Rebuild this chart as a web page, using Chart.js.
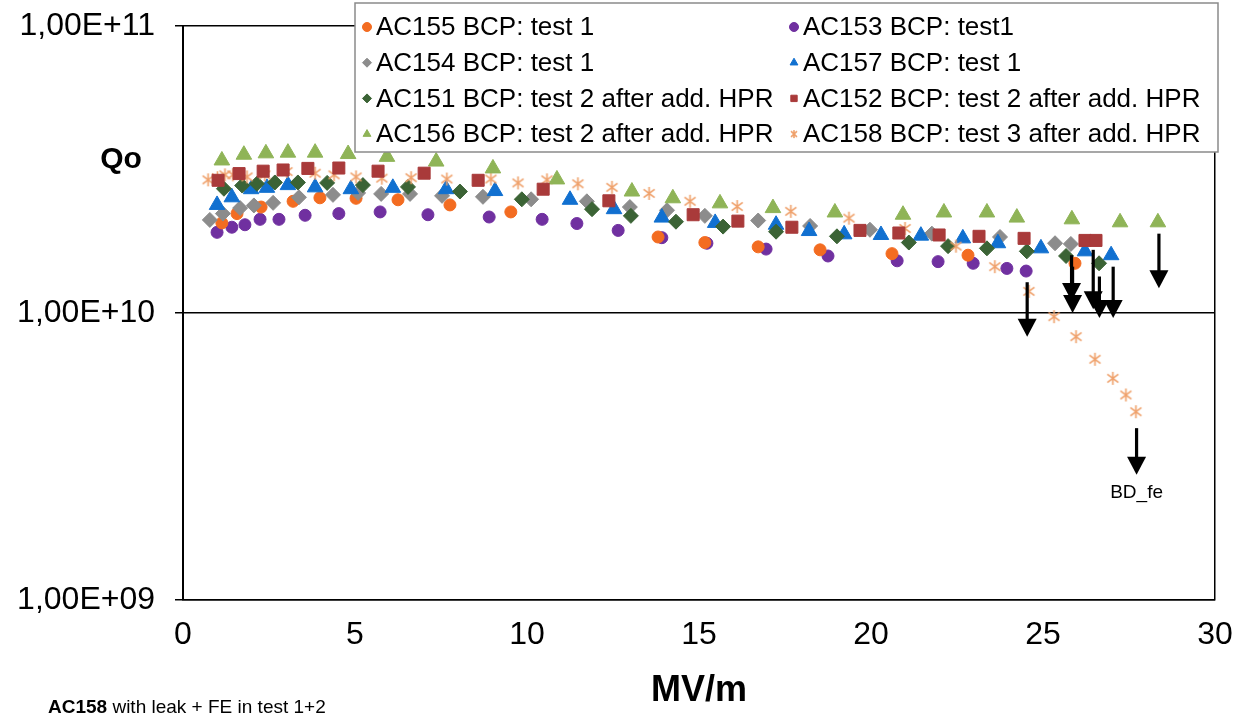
<!DOCTYPE html>
<html>
<head>
<meta charset="utf-8">
<script src="https://cdn.jsdelivr.net/npm/chart.js@4.4.0/dist/chart.umd.min.js"></script>
<style>
  body { margin: 0; background: #fff; }
  canvas { display: block; }
</style>
</head>
<body>
<canvas id="myChart" width="1238" height="720"></canvas>
<script>
// Qo vs. accelerating field, one pair of arrays per cavity test
const ac155X = [1.13, 1.57, 2.27, 3.20, 3.98, 5.03, 6.25, 7.76, 9.53, 13.81, 15.17, 16.72, 18.52, 20.61, 22.82, 25.93];
const ac155Y = [2.06e10, 2.22e10, 2.34e10, 2.45e10, 2.52e10, 2.51e10, 2.48e10, 2.38e10, 2.25e10, 1.84e10, 1.76e10, 1.70e10, 1.66e10, 1.61e10, 1.59e10, 1.49e10];

const ac153X = [0.99, 1.42, 1.80, 2.24, 2.79, 3.55, 4.53, 5.73, 7.12, 8.90, 10.44, 11.45, 12.65, 13.92, 15.23, 16.95, 18.75, 20.76, 21.95, 22.97, 23.95, 24.51];
const ac153Y = [1.91e10, 1.99e10, 2.03e10, 2.12e10, 2.12e10, 2.19e10, 2.22e10, 2.25e10, 2.20e10, 2.16e10, 2.12e10, 2.05e10, 1.94e10, 1.83e10, 1.75e10, 1.67e10, 1.58e10, 1.52e10, 1.51e10, 1.49e10, 1.43e10, 1.40e10];

const ac154X = [0.78, 1.16, 1.66, 2.06, 2.62, 3.37, 4.36, 5.09, 5.76, 6.60, 7.53, 8.72, 10.12, 11.74, 12.99, 14.07, 15.17, 16.72, 18.23, 19.97, 21.77, 23.75, 25.35, 25.81];
const ac154Y = [2.11e10, 2.22e10, 2.32e10, 2.37e10, 2.42e10, 2.53e10, 2.58e10, 2.62e10, 2.60e10, 2.60e10, 2.56e10, 2.54e10, 2.49e10, 2.45e10, 2.34e10, 2.28e10, 2.18e10, 2.10e10, 2.01e10, 1.95e10, 1.89e10, 1.84e10, 1.75e10, 1.74e10];

const ac157X = [0.99, 1.42, 1.98, 2.44, 3.05, 3.84, 4.88, 6.10, 7.65, 9.07, 11.25, 12.53, 13.92, 15.47, 17.24, 18.20, 19.22, 20.29, 21.45, 22.67, 23.69, 24.94, 26.22, 26.98];
const ac157Y = [2.38e10, 2.53e10, 2.70e10, 2.73e10, 2.79e10, 2.74e10, 2.70e10, 2.73e10, 2.70e10, 2.66e10, 2.48e10, 2.30e10, 2.15e10, 2.06e10, 2.03e10, 1.93e10, 1.88e10, 1.87e10, 1.86e10, 1.82e10, 1.75e10, 1.68e10, 1.64e10, 1.59e10];

const ac151X = [1.19, 1.72, 2.15, 2.67, 3.34, 4.19, 5.23, 6.54, 8.05, 9.85, 11.89, 13.02, 14.33, 15.70, 17.24, 19.01, 21.10, 22.24, 23.37, 24.53, 25.67, 26.63];
const ac151Y = [2.71e10, 2.78e10, 2.82e10, 2.85e10, 2.85e10, 2.84e10, 2.79e10, 2.75e10, 2.65e10, 2.49e10, 2.30e10, 2.18e10, 2.08e10, 2.00e10, 1.92e10, 1.85e10, 1.76e10, 1.71e10, 1.68e10, 1.64e10, 1.58e10, 1.49e10];

const ac152X = [1.02, 1.63, 2.33, 2.91, 3.63, 4.53, 5.67, 7.01, 8.58, 10.47, 12.38, 14.83, 16.13, 17.70, 19.68, 20.81, 21.98, 23.14, 24.45, 26.22, 26.54];
const ac152Y = [2.90e10, 3.06e10, 3.12e10, 3.15e10, 3.19e10, 3.20e10, 3.12e10, 3.07e10, 2.90e10, 2.70e10, 2.46e10, 2.20e10, 2.09e10, 1.99e10, 1.94e10, 1.90e10, 1.87e10, 1.85e10, 1.82e10, 1.79e10, 1.79e10];

const ac156X = [1.13, 1.77, 2.41, 3.05, 3.84, 4.80, 5.93, 7.36, 9.01, 10.87, 13.05, 14.24, 15.61, 17.15, 18.95, 20.93, 22.12, 23.37, 24.24, 25.84, 27.24, 28.34];
const ac156Y = [3.40e10, 3.56e10, 3.60e10, 3.62e10, 3.62e10, 3.58e10, 3.50e10, 3.37e10, 3.19e10, 2.92e10, 2.65e10, 2.51e10, 2.41e10, 2.32e10, 2.24e10, 2.20e10, 2.24e10, 2.24e10, 2.15e10, 2.12e10, 2.07e10, 2.07e10];

const ac158X = [0.73, 1.00, 1.22, 1.45, 1.86, 2.38, 3.02, 3.84, 4.39, 5.03, 5.78, 6.63, 7.67, 8.95, 9.74, 10.58, 11.48, 12.47, 13.55, 14.74, 16.11, 17.67, 19.36, 20.99, 22.47, 23.60, 24.59, 25.32, 25.96, 26.51, 27.03, 27.41, 27.70];
const ac158Y = [2.91e10, 2.96e10, 3.03e10, 3.03e10, 2.98e10, 3.03e10, 3.11e10, 3.07e10, 3.03e10, 2.98e10, 2.95e10, 2.96e10, 2.93e10, 2.93e10, 2.84e10, 2.91e10, 2.82e10, 2.74e10, 2.61e10, 2.45e10, 2.35e10, 2.26e10, 2.14e10, 1.97e10, 1.71e10, 1.45e10, 1.19e10, 9.71e9, 8.27e9, 6.90e9, 5.92e9, 5.18e9, 4.53e9];

// breakdown / quench arrows (field, Qo at top, Qo at tip)
const arrowX = [24.54, 25.83, 25.86, 26.46, 26.64, 27.04, 28.37, 27.72];
const arrowFrom = [1.28e10, 1.59e10, 1.45e10, 1.66e10, 1.34e10, 1.45e10, 1.89e10, 3.97e9];
const arrowTo = [8.27e9, 1.10e10, 1.00e10, 1.03e10, 9.6e9, 9.6e9, 1.22e10, 2.73e9];

const yTickValues = [1e9, 1e10, 1e11];
const yTickLabels = ["1,00E+09", "1,00E+10", "1,00E+11"];

const FONT = "'Liberation Sans', Arial, sans-serif";

function asterisk(size, color) {
  const c = document.createElement("canvas");
  c.width = size;
  c.height = size;
  const g = c.getContext("2d");
  const m = size / 2;
  g.strokeStyle = color;
  g.lineWidth = 1.6;
  g.beginPath();
  g.moveTo(m, 1); g.lineTo(m, size - 1);
  g.moveTo(2, size * 0.22); g.lineTo(size - 2, size * 0.78);
  g.moveTo(size - 2, size * 0.22); g.lineTo(2, size * 0.78);
  g.stroke();
  return c;
}

const starColor = "#EFA06A";
const starBig = asterisk(15, starColor);
const starSmall = asterisk(10, starColor);

function pts(xs, ys) {
  return xs.map((x, i) => ({ x: x, y: ys[i] }));
}

const series = [
  { label: "AC155 BCP: test 1", data: pts(ac155X, ac155Y), color: "#F36C21", style: "circle", r: 6 },
  { label: "AC153 BCP: test1", data: pts(ac153X, ac153Y), color: "#7030A0", style: "circle", r: 6 },
  { label: "AC154 BCP: test 1", data: pts(ac154X, ac154Y), color: "#8C8C8C", style: "rectRot", r: 7.5 },
  { label: "AC157 BCP: test 1", data: pts(ac157X, ac157Y), color: "#1170D0", style: "triangle", r: 9 },
  { label: "AC151 BCP: test 2 after add. HPR", data: pts(ac151X, ac151Y), color: "#3B6335", style: "rectRot", r: 7.5 },
  { label: "AC152 BCP: test 2 after add. HPR", data: pts(ac152X, ac152Y), color: "#A93A3A", style: "rect", r: 8.5 },
  { label: "AC156 BCP: test 2 after add. HPR", data: pts(ac156X, ac156Y), color: "#8FB457", style: "triangle", r: 9 },
  { label: "AC158 BCP: test 3 after add. HPR", data: pts(ac158X, ac158Y), color: starColor, style: starBig, r: 7 }
];

// draw order in the picture: later series sit on top
const drawOrder = [5, 6, 7, 4, 3, 2, 0, 1];

const datasets = series.map((s, i) => ({
  label: s.label,
  data: s.data,
  pointStyle: s.style,
  pointRadius: s.r,
  backgroundColor: s.color,
  borderColor: s.color,
  borderWidth: 1,
  order: drawOrder.indexOf(i)
}));

const overlay = {
  id: "overlay",
  afterDatasetsDraw(chart) {
    const { ctx, scales: { x, y } } = chart;
    ctx.save();
    ctx.strokeStyle = "#000";
    ctx.fillStyle = "#000";
    ctx.lineWidth = 3.2;
    arrowX.forEach((v, i) => {
      const px = x.getPixelForValue(v);
      const y0 = y.getPixelForValue(arrowFrom[i]);
      const y1 = y.getPixelForValue(arrowTo[i]);
      ctx.beginPath();
      ctx.moveTo(px, y0);
      ctx.lineTo(px, y1 - 15);
      ctx.stroke();
      ctx.beginPath();
      ctx.moveTo(px - 9.5, y1 - 18);
      ctx.lineTo(px + 9.5, y1 - 18);
      ctx.lineTo(px, y1);
      ctx.closePath();
      ctx.fill();
    });
    // label under the last arrow
    const last = arrowX.length - 1;
    ctx.font = "19px " + FONT;
    ctx.textAlign = "center";
    ctx.textBaseline = "middle";
    ctx.fillText("BD_fe", x.getPixelForValue(arrowX[last]), y.getPixelForValue(arrowTo[last]) + 18);
    ctx.restore();
  },
  afterDraw(chart) {
    const ctx = chart.ctx;
    ctx.save();
    // legend box overlapping the top of the plot
    ctx.fillStyle = "#fff";
    ctx.fillRect(355, 3, 863, 149);
    ctx.strokeStyle = "#8a8a8a";
    ctx.lineWidth = 1.5;
    ctx.strokeRect(355, 3, 863, 149);
    ctx.font = "26px " + FONT;
    ctx.textBaseline = "middle";
    ctx.textAlign = "left";
    series.forEach((s, i) => {
      const col = i % 2, row = Math.floor(i / 2);
      const mx = col === 0 ? 367 : 794;
      const my = 27 + row * 35.7;
      ctx.fillStyle = s.color;
      ctx.strokeStyle = s.color;
      ctx.lineWidth = 1;
      const st = s.style === starBig ? starSmall : s.style;
      Chart.helpers.drawPoint(ctx, { pointStyle: st, radius: 4.5, rotation: 0, borderWidth: 1 }, mx, my);
      ctx.fillStyle = "#000";
      ctx.fillText(s.label, mx + 9, my + 1);
    });

    ctx.fillStyle = "#000";
    ctx.font = "bold 30px " + FONT;
    ctx.textAlign = "center";
    ctx.fillText("Qo", 121, 160);

    ctx.textAlign = "left";
    ctx.font = "bold 19px " + FONT;
    ctx.fillText("AC158", 48, 708);
    const w = ctx.measureText("AC158").width;
    ctx.font = "19px " + FONT;
    ctx.fillText(" with leak + FE in test 1+2", 48 + w, 708);
    ctx.restore();
  }
};

new Chart(document.getElementById("myChart"), {
  type: "scatter",
  data: { datasets: datasets },
  plugins: [overlay],
  options: {
    responsive: false,
    animation: false,
    devicePixelRatio: 1,
    layout: { padding: { top: 26, right: 23, left: 0, bottom: 0 } },
    plugins: { legend: { display: false }, tooltip: { enabled: false } },
    scales: {
      x: {
        type: "linear",
        min: 0,
        max: 30,
        afterFit: (scale) => {
          scale.height = 120;
          scale.paddingLeft = 0;
          scale.paddingRight = 0;
        },
        ticks: { stepSize: 5, color: "#000", font: { family: FONT, size: 32 }, padding: 16 },
        grid: {
          drawTicks: false,
          color: (c) => (c.tick && c.tick.value === 30 ? "#000" : "rgba(0,0,0,0)"),
          lineWidth: 1.5
        },
        border: { color: "#000", width: 1.5 },
        title: { display: true, text: "MV/m", color: "#000", font: { family: FONT, size: 36, weight: "bold" }, padding: { top: 0, bottom: 7 } }
      },
      y: {
        type: "logarithmic",
        min: 1e9,
        max: 1e11,
        afterFit: (scale) => {
          scale.width = 183;
          scale.paddingTop = 0;
          scale.paddingBottom = 0;
        },
        afterBuildTicks: (scale) => { scale.ticks = yTickValues.map((v) => ({ value: v })); },
        ticks: {
          color: "#000",
          font: { family: FONT, size: 32 },
          padding: 20,
          autoSkip: false,
          callback: (v) => yTickLabels[yTickValues.indexOf(v)]
        },
        grid: { color: "#000", lineWidth: 1.5, tickLength: 8, tickColor: "#000" },
        border: { color: "#000", width: 2 }
      }
    }
  }
});
</script>
</body>
</html>
